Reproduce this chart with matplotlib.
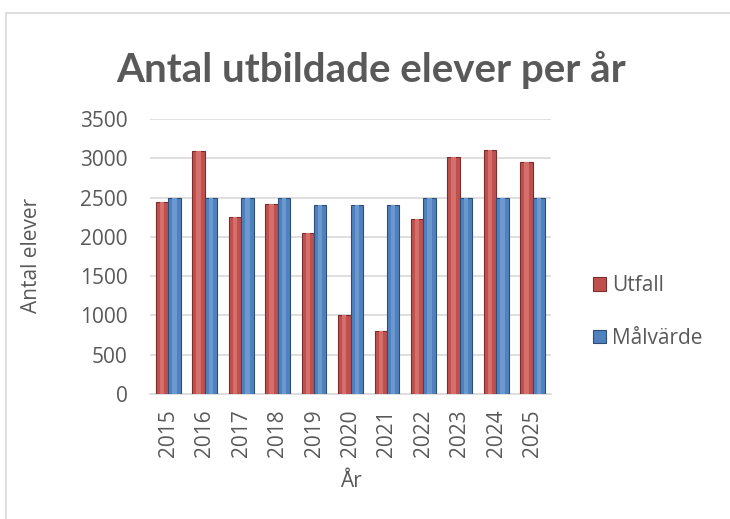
import numpy as np
import matplotlib
matplotlib.use('Agg')
import matplotlib.pyplot as plt
from matplotlib.patches import Rectangle

plt.rcParams['font.family'] = ['Open Sans', 'DejaVu Sans']

years = ['2015', '2016', '2017', '2018', '2019', '2020', '2021', '2022', '2023', '2024', '2025']
utfall = [2440, 3090, 2250, 2420, 2050, 1000, 800, 2230, 3020, 3100, 2950]
malvarde = [2500, 2500, 2500, 2500, 2400, 2400, 2400, 2500, 2500, 2500, 2500]

grey = '#595959'
red, red_edge = '#C0504D', '#7a2e2c'
blue, blue_edge = '#4F81BD', '#2c4d75'

fig = plt.figure(figsize=(7.30, 5.19), dpi=100)
fig.patches.append(Rectangle((6/730, -0.05), 1.0, (519-13)/519 + 0.05, transform=fig.transFigure,
                             fill=False, edgecolor='#D9D9D9', linewidth=1.2))

ax = fig.add_axes([150/730, 125/519, 401/730, 275/519])
x = np.arange(len(years))
w = 0.34
ax.bar(x - w/2, utfall, w, color=red, edgecolor=red_edge, linewidth=0.8, label='Utfall', zorder=3)
ax.bar(x + w/2, malvarde, w, color=blue, edgecolor=blue_edge, linewidth=0.8, label='Målvärde', zorder=3)
# light stripe to mimic the cylinder shading
ax.bar(x - w/2, utfall, w*0.35, color='#d46f6b', linewidth=0, zorder=4)
ax.bar(x + w/2, malvarde, w*0.35, color='#6a98cf', linewidth=0, zorder=4)

ax.set_xlim(-0.5, len(years) - 0.5)
ax.set_ylim(0, 3500)
ax.set_yticks(range(0, 3501, 500))
ax.set_xticks(x)
ax.set_xticklabels(years, rotation=90)
ax.yaxis.grid(True, color='#D9D9D9', linewidth=1.2, zorder=0)
for s in ['left', 'right', 'top']:
    ax.spines[s].set_visible(False)
ax.spines['bottom'].set_color('#D9D9D9')
ax.spines['bottom'].set_linewidth(1.2)
ax.tick_params(axis='both', length=0, labelsize=15, colors=grey)
ax.tick_params(axis='y', pad=16)
ax.tick_params(axis='x', pad=11)

ax.set_ylabel('Antal elever', fontsize=15, color=grey)
ax.yaxis.set_label_coords(-0.269, 0.505)
ax.set_xlabel('År', fontsize=15, color=grey)
ax.xaxis.set_label_coords(0.5, -0.28)

fig.text(371/730, 1 - 70/519, 'Antal utbildade elever per år', ha='center', va='center',
         fontsize=29, fontweight='bold', color=grey, family=['Lato', 'DejaVu Sans'])

ax.legend(loc='center left', bbox_to_anchor=(1.058, 0.298), frameon=False, fontsize=15,
          labelcolor=grey, handlelength=0.62, handleheight=0.62, handletextpad=0.3, labelspacing=1.5)

fig.savefig('out.png', dpi=100)
